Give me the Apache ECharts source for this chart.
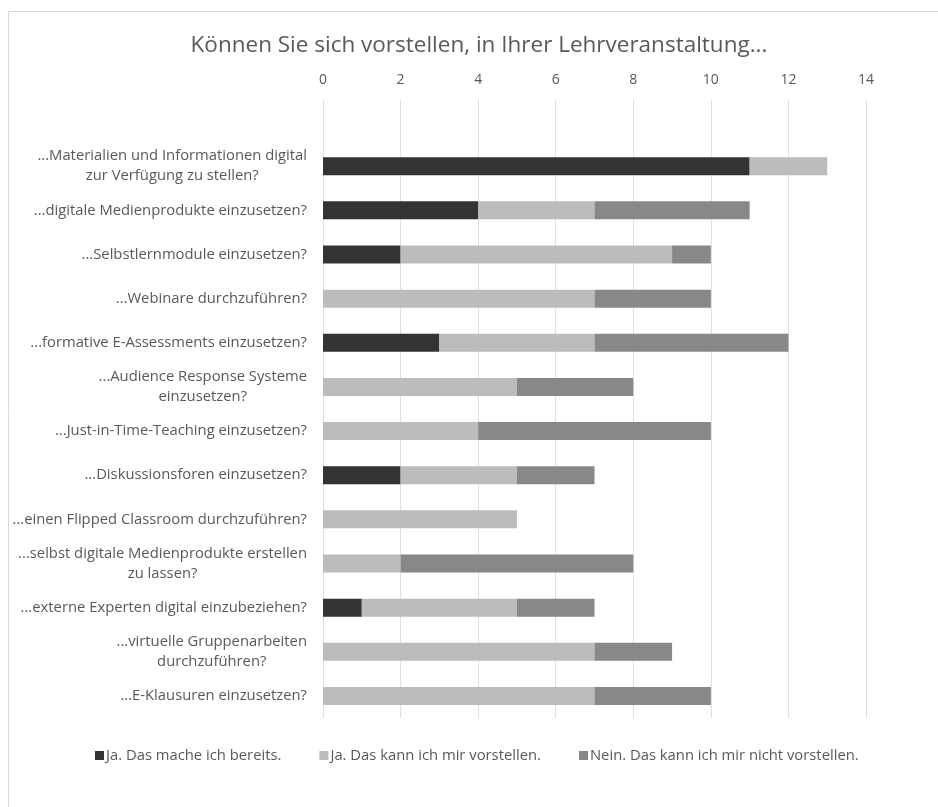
<!DOCTYPE html>
<html>
<head>
<meta charset="utf-8">
<script src="https://cdn.jsdelivr.net/npm/echarts@6/dist/echarts.min.js"></script>
<style>
  html, body { margin: 0; padding: 0; background: #ffffff; }
  #chart { width: 938px; height: 807px; }
</style>
</head>
<body>
<div id="chart"></div>
<script>
// Survey questions, top to bottom (first entry is an empty spacer row)
const categories = [
  '',
  '...Materialien und Informationen digital\nzur Verfügung zu stellen?',
  '...digitale Medienprodukte einzusetzen?',
  '...Selbstlernmodule einzusetzen?',
  '...Webinare durchzuführen?',
  '...formative E-Assessments einzusetzen?',
  '...Audience Response Systeme\neinzusetzen?',
  '...Just-in-Time-Teaching einzusetzen?',
  '...Diskussionsforen einzusetzen?',
  '...einen Flipped Classroom durchzuführen?',
  '...selbst digitale Medienprodukte erstellen\nzu lassen?',
  '...externe Experten digital einzubeziehen?',
  '...virtuelle Gruppenarbeiten\ndurchzuführen?',
  '...E-Klausuren einzusetzen?'
];

const seriesNames = [
  'Ja. Das mache ich bereits.',
  'Ja. Das kann ich mir vorstellen.',
  'Nein. Das kann ich mir nicht vorstellen.'
];

// Number of answers per question
const alreadyDoing = [null, 11, 4, 2, 0, 3, 0, 0, 2, 0, 0, 1, 0, 0];
const couldImagine = [null, 2, 3, 7, 7, 4, 5, 4, 3, 5, 2, 4, 7, 7];
const notImagine   = [null, 0, 4, 1, 3, 5, 3, 6, 2, 0, 6, 2, 2, 3];

const xTicks = { min: 0, max: 14, interval: 2 };

const colors = ['#333333', '#bcbcbc', '#888888'];
const font = "'Open Sans', 'Noto Sans', sans-serif";
const textColor = '#595959';

const chart = echarts.init(document.getElementById('chart'), null, { renderer: 'canvas' });

function stackSeries(name, data, color) {
  return {
    name: name,
    type: 'bar',
    stack: 'total',
    barWidth: 18,
    data: data.map(v => (v === 0 ? null : v)),
    itemStyle: { color: color },
    emphasis: { disabled: true }
  };
}

chart.setOption({
  animation: false,
  backgroundColor: '#ffffff',
  color: colors,
  graphic: [{
    type: 'rect',
    shape: { x: 8.5, y: 11.5, width: 1200, height: 1200 },
    style: { fill: 'none', stroke: '#d9d9d9', lineWidth: 1 },
    silent: true
  }],
  title: {
    text: 'Können Sie sich vorstellen, in Ihrer Lehrveranstaltung...',
    left: 474,
    textAlign: 'center',
    top: 29,
    textStyle: { fontFamily: font, fontSize: 22.5, fontWeight: 'normal', color: textColor }
  },
  legend: {
    data: seriesNames,
    bottom: 39,
    left: 90,
    itemWidth: 9,
    itemHeight: 9,
    itemGap: 38,
    icon: 'rect',
    textStyle: { fontFamily: font, fontSize: 14.8, color: textColor, padding: [0, 0, 0, -3] }
  },
  grid: { left: 323, right: 72, top: 100, bottom: 89, containLabel: false },
  xAxis: {
    type: 'value',
    position: 'top',
    min: xTicks.min,
    max: xTicks.max,
    interval: xTicks.interval,
    axisLine: { show: false },
    axisTick: { show: false },
    axisLabel: { fontFamily: font, fontSize: 14, color: textColor, margin: 13 },
    splitLine: { show: true, lineStyle: { color: '#e0e0e0', width: 1 } }
  },
  yAxis: {
    type: 'category',
    inverse: true,
    data: categories,
    axisLine: { show: false },
    axisTick: { show: false },
    axisLabel: {
      fontFamily: font,
      fontSize: 14.8,
      color: textColor,
      margin: 16,
      lineHeight: 20,
      interval: 0,
      formatter: function (v) {
        if (!v) return '';
        return v.split('\n').map(line => '{c|' + line + '}').join('\n');
      },
      rich: {
        c: { align: 'center', fontFamily: font, fontSize: 14.8, color: textColor, lineHeight: 20 }
      }
    }
  },
  series: [
    stackSeries(seriesNames[0], alreadyDoing, colors[0]),
    stackSeries(seriesNames[1], couldImagine, colors[1]),
    stackSeries(seriesNames[2], notImagine, colors[2])
  ]
});
</script>
</body>
</html>
